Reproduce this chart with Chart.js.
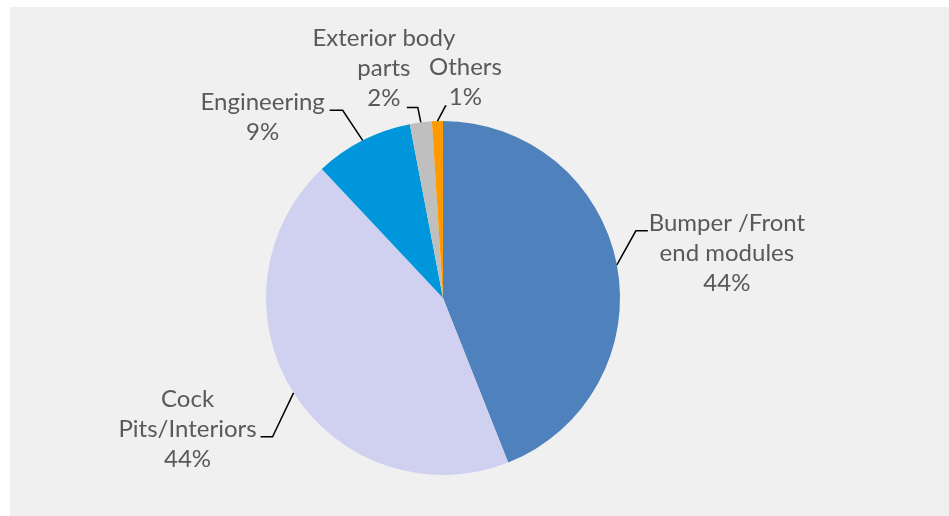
<!DOCTYPE html>
<html>
<head>
<meta charset="utf-8">
<script src="https://cdn.jsdelivr.net/npm/chart.js@4.4.1/dist/chart.umd.min.js"></script>
<style>
    html, body { margin: 0; padding: 0; background: #ffffff; }
    .chart-box {
        position: absolute;
        left: 10px;
        top: 7px;
        width: 939px;
        height: 509px;
        background: #f0f0f0;
    }
</style>
</head>
<body>
<div class="chart-box">
    <canvas id="segmentChart" width="939" height="509"></canvas>
</div>
<script>
// segment names (wrapped the way the labels are shown) and their shares
const segments = [
    ['Bumper /Front', 'end modules'],
    ['Cock', 'Pits/Interiors'],
    ['Engineering'],
    ['Exterior body', 'parts'],
    ['Others']
];
const shares = [44, 44, 9, 2, 1];
const sliceColors = ['#4f81bd', '#d0d0f0', '#0096db', '#bfbfbf', '#ff9900'];

// label placement, relative to the point where the slice's mid-angle meets the rim:
// text = first baseline centre, elbow = bend of the leader line, run = horizontal tail
const labelLayout = [
    { text: [110, -34], elbow: [19, -34], run: 12 },
    { text: [-106, 14], elbow: [-21, 44], run: -12 },
    { text: [-100, -30], elbow: [-20, -30], run: -13 },
    { text: [-37, -76], elbow: [-3, -15], run: -11 },
    { text: [28, -46], elbow: [8, -15], run: 1 }
];

const sliceLabels = {
    id: 'sliceLabels',
    afterDatasetsDraw(chart) {
        const ctx = chart.ctx;
        const arcs = chart.getDatasetMeta(0).data;
        const data = chart.data.datasets[0].data;
        const total = data.reduce((a, b) => a + b, 0);

        ctx.save();
        ctx.font = '24px Lato';
        ctx.textAlign = 'center';
        ctx.textBaseline = 'alphabetic';

        arcs.forEach((arc, i) => {
            const p = arc.getProps(['x', 'y', 'startAngle', 'endAngle', 'outerRadius'], true);
            const mid = (p.startAngle + p.endAngle) / 2;
            const ex = p.x + Math.cos(mid) * p.outerRadius;
            const ey = p.y + Math.sin(mid) * p.outerRadius;
            const lay = labelLayout[i];

            // leader line
            ctx.strokeStyle = '#000000';
            ctx.lineWidth = 1.5;
            ctx.beginPath();
            ctx.moveTo(ex, ey);
            ctx.lineTo(ex + lay.elbow[0], ey + lay.elbow[1]);
            ctx.lineTo(ex + lay.elbow[0] + lay.run, ey + lay.elbow[1]);
            ctx.stroke();

            // name lines + percentage
            const lines = [].concat(chart.data.labels[i], Math.round(data[i] / total * 100) + '%');
            ctx.fillStyle = '#595959';
            lines.forEach((t, k) => {
                ctx.fillText(t, ex + lay.text[0], ey + lay.text[1] + k * 30);
            });
        });
        ctx.restore();
    }
};

window.onload = function() {
    const ctx = document.getElementById('segmentChart').getContext('2d');

    new Chart(ctx, {
        type: 'pie',
        data: {
            labels: segments,
            datasets: [{
                data: shares,
                backgroundColor: sliceColors,
                borderWidth: 0,
                hoverOffset: 0,
                offset: 0
            }]
        },
        options: {
            responsive: false,
            animation: false,
            layout: {
                padding: { left: 256, top: 114, right: 329, bottom: 41 }
            },
            plugins: {
                legend: { display: false },
                tooltip: { enabled: false }
            }
        },
        plugins: [sliceLabels]
    });
};
</script>
</body>
</html>
